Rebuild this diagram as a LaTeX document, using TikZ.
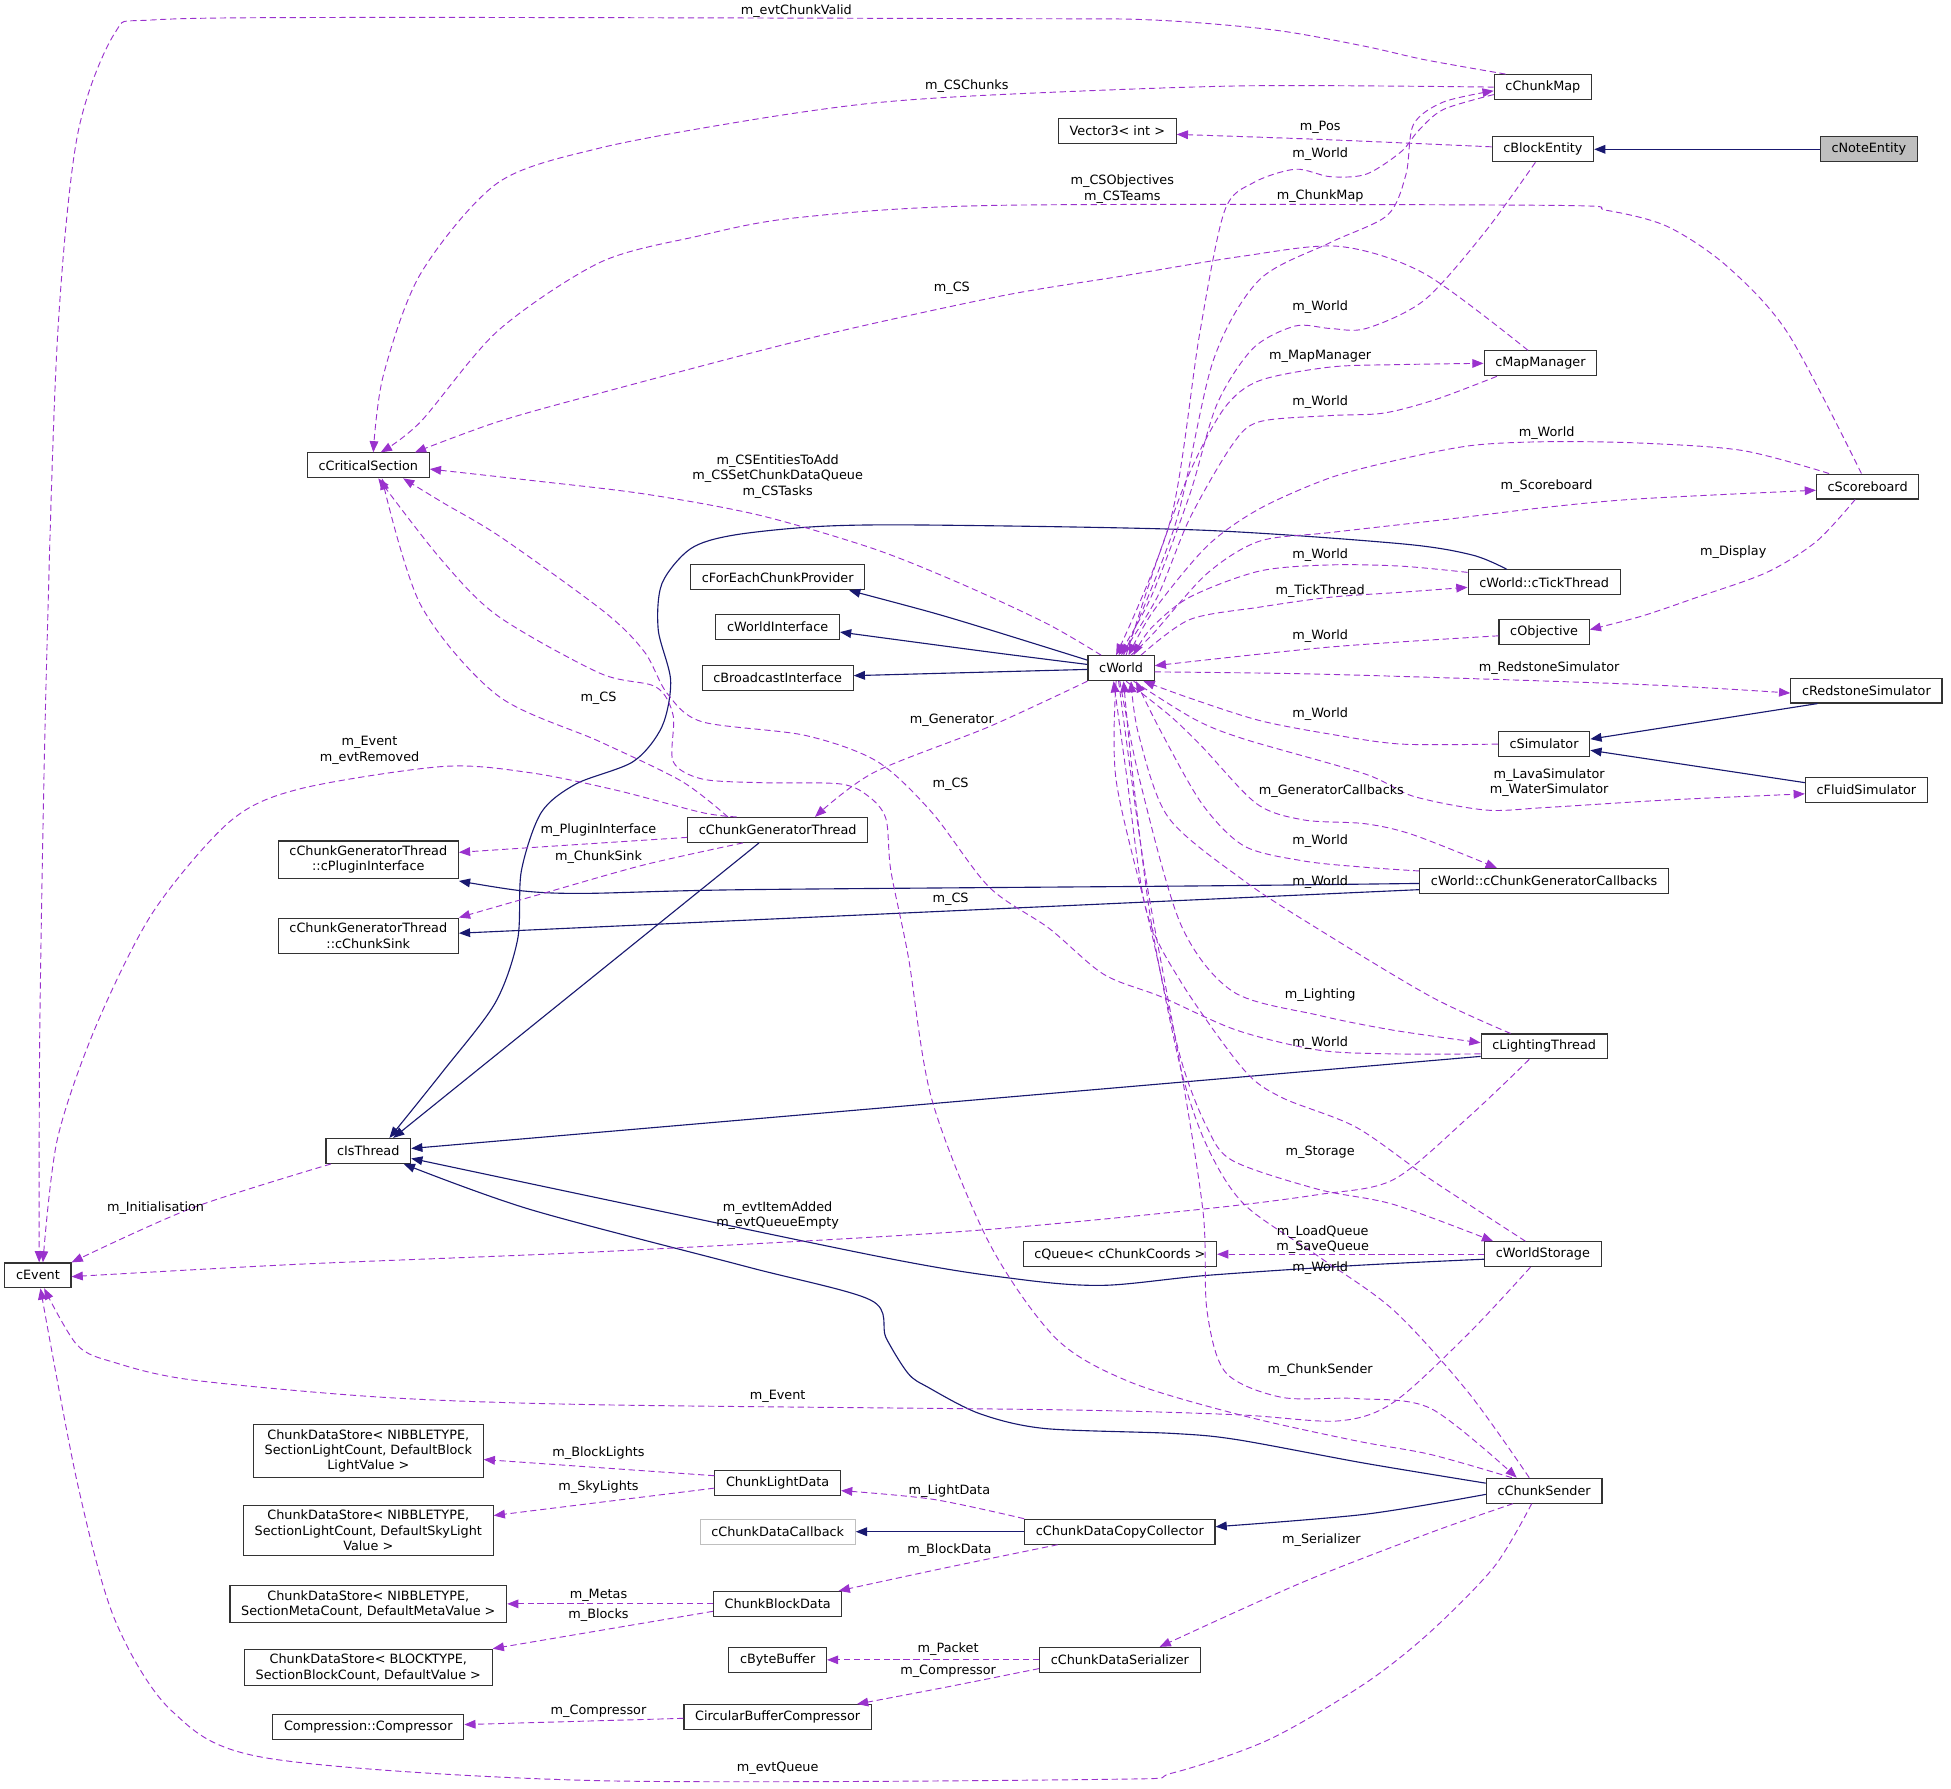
\documentclass[tikz,border=0pt]{standalone}
\usepackage{fontspec}
\setmainfont{DejaVu Sans}
\usetikzlibrary{arrows.meta}
\definecolor{depcol}{HTML}{9A32CD}
\definecolor{inhcol}{HTML}{191970}
\newcommand{\dxfont}{\fontsize{10.3pt}{12.3pt}\selectfont}

\begin{document}
\begin{tikzpicture}[x=1pt,y=-1pt,
  cls/.style={draw=black!80,line width=0.9pt,fill=white,font=\dxfont,align=center,inner xsep=9pt,inner ysep=4pt,minimum height=20pt},
  lbl/.style={font=\dxfont,align=center,inner sep=0pt},
  dep/.style={draw=depcol,line width=0.75pt,dash pattern=on 5pt off 3pt,-{Triangle[length=9pt,width=7pt]}},
  inh/.style={draw=inhcol,line width=0.9pt,-{Triangle[length=9pt,width=7pt]}}]
\useasboundingbox (0,0) rectangle (1568,1437);

\node[cls,fill=black!25] (cNoteEntity) at (1502,120) {cNoteEntity};
\node[cls] (cBlockEntity) at (1240,120) {cBlockEntity};
\node[cls] (cChunkMap) at (1240,70) {cChunkMap};
\node[cls] (vecInt) at (898,105) {Vector3< int >};
\node[cls] (cMapManager) at (1238,292) {cMapManager};
\node[cls] (cCritSec) at (296,374) {cCriticalSection};
\node[cls] (cScoreboard) at (1501,391) {cScoreboard};
\node[cls] (cForEach) at (625,464) {cForEachChunkProvider};
\node[cls] (cTickThread) at (1241,468) {cWorld::cTickThread};
\node[cls] (cWorldIf) at (625,504) {cWorldInterface};
\node[cls] (cObjective) at (1241,508) {cObjective};
\node[cls] (cBroadcast) at (625,545) {cBroadcastInterface};
\node[cls] (cWorld) at (901,537) {cWorld};
\node[cls] (cRedstone) at (1500,555) {cRedstoneSimulator};
\node[cls] (cSimulator) at (1241,598) {cSimulator};
\node[cls] (cFluid) at (1500,635) {cFluidSimulator};
\node[cls] (cGenThread) at (625,667) {cChunkGeneratorThread};
\node[cls] (cPlugin) at (296,691) {cChunkGeneratorThread\\::cPluginInterface};
\node[cls] (cCallbacks) at (1241,708) {cWorld::cChunkGeneratorCallbacks};
\node[cls] (cSink) at (296,752) {cChunkGeneratorThread\\::cChunkSink};
\node[cls] (cLighting) at (1241,841) {cLightingThread};
\node[cls] (cIsThread) at (296,925) {cIsThread};
\node[cls] (cEvent) at (30.5,1025) {cEvent};
\node[cls] (cQueue) at (900,1008) {cQueue< cChunkCoords >};
\node[cls] (cStorage) at (1240,1008) {cWorldStorage};
\node[cls] (storeBlockLight) at (296,1166) {ChunkDataStore< NIBBLETYPE,\\ SectionLightCount, DefaultBlock\\LightValue >};
\node[cls] (cLightData) at (625,1192) {ChunkLightData};
\node[cls] (cSender) at (1241,1198) {cChunkSender};
\node[cls] (storeSkyLight) at (296,1230) {ChunkDataStore< NIBBLETYPE,\\ SectionLightCount, DefaultSkyLight\\Value >};
\node[cls,draw=black!25] (cDataCallback) at (625,1231) {cChunkDataCallback};
\node[cls] (cCopyCollector) at (900,1231) {cChunkDataCopyCollector};
\node[cls] (storeMeta) at (296,1289) {ChunkDataStore< NIBBLETYPE,\\ SectionMetaCount, DefaultMetaValue >};
\node[cls] (cBlockData) at (625,1289) {ChunkBlockData};
\node[cls] (storeBlock) at (296,1340) {ChunkDataStore< BLOCKTYPE,\\ SectionBlockCount, DefaultValue >};
\node[cls] (cByteBuffer) at (625,1334) {cByteBuffer};
\node[cls] (cSerializer) at (900,1334) {cChunkDataSerializer};
\node[cls] (cCompressor) at (296,1388) {Compression::Compressor};
\node[cls] (cCircBuf) at (625,1380) {CircularBufferCompressor};

\draw[inh] (cNoteEntity) -- (cBlockEntity);
\draw[inh] plot[smooth,tension=.5] coordinates {([yshift=-4]cWorld.north west) (795,506) (748,492) ([xshift=-13]cForEach.south east)};
\draw[inh] plot[smooth,tension=.5] coordinates {([yshift=3]cWorld.west) (795,524) ([yshift=-4]cWorldIf.east)};
\draw[inh] ([yshift=-1]cWorld.west) -- ([yshift=2]cBroadcast.east);
\draw[inh] plot[smooth,tension=.5] coordinates {([xshift=-30]cTickThread.north) (1183,446) (1126,437) (964,426) (749,422) (660,423) (590,430) (555,441) (532,469) (529,506) (539,547) (532,584) (509,612) (463,630) (435,653) (419,700) (416,755) (398,806) (356,861) ([xshift=17]cIsThread.north)};
\draw[inh] ([xshift=-15]cGenThread.south) -- ([xshift=20]cIsThread.north);
\draw[inh] ([yshift=-8]cLighting.west) -- ([yshift=2]cIsThread.east);
\draw[inh] plot[smooth,tension=.5] coordinates {([yshift=-4]cStorage.west) (1090,1017) (970,1025) (887,1033) (818,1028) (702,1009) ([yshift=-6]cIsThread.east)};
\draw[inh] plot[smooth,tension=.5] coordinates {([yshift=6]cSender.west) (1097,1176) (994,1157) (942,1152) (839,1148) (787,1136) (746,1115) (730,1104) (712,1075) (700,1045) (600,1018) (426,972) ([xshift=-6]cIsThread.south east)};
\draw[inh] plot[smooth,tension=.5] coordinates {([yshift=-2]cCallbacks.west) (964,712) (600,715) (470,718) (420,716) ([yshift=-17]cPlugin.east)};
\draw[inh] ([yshift=-7]cCallbacks.west) -- ([yshift=2]cSink.east);
\draw[inh] ([xshift=22]cRedstone.south west) -- ([yshift=4]cSimulator.east);
\draw[inh] ([yshift=6]cFluid.west) -- ([yshift=-5]cSimulator.east);
\draw[inh] plot[smooth,tension=.5] coordinates {([yshift=-3]cSender.west) (1097,1217) ([yshift=4]cCopyCollector.east)};
\draw[inh] (cCopyCollector.west) -- (cDataCallback.east);

\draw[dep] plot[smooth,tension=.5] coordinates {([xshift=-30]cChunkMap.north) (1145,48) (1096,37) (1023,24) (925,16) (804,15) (300,14) (123,16) (92,27) (62,110) (46,275) (37,550) (32,825) ([xshift=1]cEvent.north)};
\draw[dep] plot[smooth,tension=.5] coordinates {(cChunkMap.west) (999,69) (804,76) (700,83) (600,97) (482,119) (400,147) (338,220) (308,302) ([xshift=4]cCritSec.north)};
\draw[dep] plot[smooth,tension=.5] coordinates {([xshift=-5]cScoreboard.north) (1437,268) (1388,214) (1340,182) (1291,169) (1242,165) (804,165) (640,175) (560,190) (482,211) (400,266) (338,339) ([xshift=10]cCritSec.north)};
\draw[dep] plot[smooth,tension=.5] coordinates {([xshift=-10]cMapManager.north) (1145,220) (1076,198) (998,206) (901,222) (804,238) (650,272) (482,316) (400,339) ([xshift=-12]cCritSec.north east)};
\draw[dep] plot[smooth,tension=.5] coordinates {([xshift=-16]cWorld.north) (841,501) (772,469) (702,441) (610,414) (518,397) (426,386) ([yshift=-3]cCritSec.east)};
\draw[dep] plot[smooth,tension=.5] coordinates {([xshift=-40]cGenThread.north) (548,628) (482,596) (400,559) (338,486) ([xshift=11]cCritSec.south)};
\draw[dep] plot[smooth,tension=.5] coordinates {([yshift=-6]cLighting.west) (1120,847) (1060,844) (994,828) (933,801) (887,783) (843,746) (795,713) (749,653) (705,612) (647,591) (564,580) (536,557) (518,524) (486,492) (403,432) (356,404) ([xshift=28]cCritSec.south)};
\draw[dep] plot[smooth,tension=.5] coordinates {([xshift=-26]cSender.north) (1150,1169) (1090,1158) (1000,1138) (909,1111) (849,1076) (795,999) (749,884) (730,769) (716,700) (712,658) (698,640) (675,630) (610,629) (564,626) (541,612) (541,575) (527,552) (482,541) (400,495) (354,449) ([xshift=8]cCritSec.south)};
\draw[dep] plot[smooth,tension=.5] coordinates {([yshift=2]cBlockEntity.west) (1060,112) ([yshift=-3]vecInt.east)};
\draw[dep] plot[smooth,tension=.5] coordinates {([yshift=-6]cChunkMap.west) (1160,88) (1140,105) (1126,122) (1098,140) (1069,142) (1041,136) (1007,147) (984,170) (964,269) (941,417) ([xshift=-4]cWorld.north)};
\draw[dep] plot[smooth,tension=.5] coordinates {([xshift=2]cWorld.north) (945,420) (975,290) (1012,225) (1069,195) (1115,173) (1130,140) (1136,100) (1160,82) ([yshift=-3]cChunkMap.west)};
\draw[dep] plot[smooth,tension=.5] coordinates {([xshift=-6]cBlockEntity.south) (1193,187) (1145,241) (1098,264) (1069,264) (1041,262) (1007,280) (978,325) (956,398) (925,480) ([xshift=-2]cWorld.north)};
\draw[dep] plot[smooth,tension=.5] coordinates {([xshift=4]cWorld.north) (930,450) (956,380) (984,328) (1012,306) (1069,295) (1126,293) (cMapManager.west)};
\draw[dep] plot[smooth,tension=.5] coordinates {([xshift=-35]cMapManager.south) (1154,321) (1112,332) (1069,334) (1012,339) (990,358) (956,417) (930,480) (cWorld.north)};
\draw[dep] plot[smooth,tension=.5] coordinates {([xshift=-31]cScoreboard.north) (1400,362) (1316,356) (1242,355) (1183,358) (1126,369) (1069,384) (1012,409) (970,439) (927,491) ([xshift=6]cWorld.north)};
\draw[dep] plot[smooth,tension=.5] coordinates {([xshift=8]cWorld.north) (927,509) (970,461) (1012,435) (1069,428) (1166,417) (1240,408) (1316,401) ([yshift=-3]cScoreboard.west)};
\draw[dep] plot[smooth,tension=.5] coordinates {([xshift=-10]cScoreboard.south) (1460,435) (1420,460) (1364,480) (1320,495) ([yshift=2]cObjective.east)};
\draw[dep] plot[smooth,tension=.5] coordinates {([yshift=8]cTickThread.west) (1126,455) (1069,454) (1012,459) (956,480) (925,505) ([xshift=10]cWorld.north)};
\draw[dep] plot[smooth,tension=.5] coordinates {([xshift=16]cWorld.north) (956,498) (1012,488) (1069,480) (1126,476) ([yshift=-4]cTickThread.west)};
\draw[dep] plot[smooth,tension=.5] coordinates {([yshift=-3]cObjective.west) (1069,520) ([yshift=2]cWorld.east)};
\draw[dep] plot[smooth,tension=.5] coordinates {([yshift=-3]cWorld.east) (1069,542) (1316,550) ([yshift=-2]cRedstone.west)};
\draw[dep] plot[smooth,tension=.5] coordinates {(cSimulator.west) (1126,598) (1069,590) (1012,579) (956,561) ([xshift=18]cWorld.south)};
\draw[dep] plot[smooth,tension=.5] coordinates {([xshift=10]cWorld.south) (960,578) (1000,594) (1097,622) (1136,640) (1194,651) (1242,649) (1339,643) ([yshift=-3]cFluid.west)};
\draw[dep] plot[smooth,tension=.5] coordinates {([xshift=4]cWorld.south) (940,575) (966,600) (1010,646) (1048,659) (1097,662) (1136,671) ([xshift=-38]cCallbacks.north)};
\draw[dep] plot[smooth,tension=.5] coordinates {([yshift=8]cCallbacks.west) (1097,697) (1048,692) (1000,680) (966,646) (932,586) ([xshift=12]cWorld.south)};
\draw[dep] plot[smooth,tension=.5] coordinates {(cWorld.south west) (795,584) (702,621) ([xshift=30]cGenThread.north)};
\draw[dep] plot[smooth,tension=.5] coordinates {([xshift=-33]cGenThread.north) (564,653) (495,635) (426,621) (356,616) (241,634) (185,660) (123,733) (77,825) (46,916) ([xshift=4]cEvent.north)};
\draw[dep] plot[smooth,tension=.5] coordinates {([yshift=-6]cGenThread.west) (460,679) ([yshift=6]cPlugin.east)};
\draw[dep] plot[smooth,tension=.5] coordinates {([xshift=-28]cGenThread.south) (518,695) (440,717) (cSink.north east)};
\draw[dep] plot[smooth,tension=.5] coordinates {([xshift=-27]cLighting.north) (1150,801) (1060,747) (1000,708) (939,657) (915,590) ([xshift=8]cWorld.south)};
\draw[dep] plot[smooth,tension=.5] coordinates {([xshift=-1]cWorld.south) (916,627) (949,743) (991,797) (1060,816) (1120,828) ([yshift=3]cLighting.west)};
\draw[dep] plot[smooth,tension=.5] coordinates {([xshift=-12]cLighting.south) (1180,898) (1120,948) (1060,960) (964,972) (769,990) (482,1006) (241,1016) ([yshift=-1]cEvent.east)};
\draw[dep] plot[smooth,tension=.5] coordinates {([xshift=-30]cIsThread.south) (154,971) (cEvent.north east)};
\draw[dep] plot[smooth,tension=.5] coordinates {([xshift=-4]cWorld.south) (897,627) (924,743) (949,851) (970,906) (991,933) (1060,956) (1120,968) ([xshift=-40]cStorage.north)};
\draw[dep] plot[smooth,tension=.5] coordinates {([xshift=-14]cStorage.north) (1150,948) (1090,906) (1030,882) (999,859) (949,789) (921,731) (905,620) ([xshift=-6]cWorld.south)};
\draw[dep] (cStorage.west) -- (cQueue.east);
\draw[dep] plot[smooth,tension=.5] coordinates {([xshift=-10]cStorage.south) (1180,1072) (1120,1127) (1075,1142) (994,1137) (849,1133) (482,1129) (308,1123) (154,1109) (92,1095) (62,1081) ([xshift=5]cEvent.south)};
\draw[dep] plot[smooth,tension=.5] coordinates {([xshift=-12]cSender.north) (1180,1119) (1120,1053) (1060,1010) (1000,968) (970,921) (949,859) (925,740) (910,620) ([xshift=2]cWorld.south)};
\draw[dep] plot[smooth,tension=.5] coordinates {([xshift=-2]cWorld.south) (920,700) (949,859) (967,975) (970,1053) (985,1103) (1030,1123) (1090,1124) (1150,1132) ([xshift=-22]cSender.north)};
\draw[dep] plot[smooth,tension=.5] coordinates {([xshift=-10]cSender.south) (1201,1259) (1149,1312) (1097,1353) (1020,1398) (942,1425) (891,1430) (477,1431) (215,1413) (138,1375) (92,1301) (62,1191) ([xshift=2]cEvent.south)};
\draw[dep] plot[smooth,tension=.5] coordinates {([xshift=-25]cSender.south) (1149,1232) (1046,1272) ([xshift=32]cSerializer.north)};
\draw[dep] plot[smooth,tension=.5] coordinates {(cCopyCollector.north west) (750,1205) ([yshift=-6]cLightData.east)};
\draw[dep] plot[smooth,tension=.5] coordinates {([xshift=27]cCopyCollector.south west) (760,1260) ([xshift=49]cBlockData.north)};
\draw[dep] ([yshift=6]cLightData.west) -- ([yshift=-7]storeBlockLight.east);
\draw[dep] ([yshift=-4]cLightData.west) -- ([yshift=12]storeSkyLight.east);
\draw[dep] (cBlockData.west) -- (storeMeta.east);
\draw[dep] ([yshift=-6]cBlockData.west) -- ([yshift=15]storeBlock.east);
\draw[dep] (cSerializer.west) -- (cByteBuffer.east);
\draw[dep] plot[smooth,tension=.5] coordinates {([yshift=-7]cSerializer.west) (760,1356) ([xshift=-12]cCircBuf.north east)};
\draw[dep] ([yshift=-1]cCircBuf.west) -- ([yshift=2]cCompressor.east);

\node[lbl] (lEvtChunkValid) at (640,9) {m\_evtChunkValid};
\node[lbl] (lCSChunks) at (777,69) {m\_CSChunks};
\node[lbl] (lPos) at (1061,102) {m\_Pos};
\node[lbl] (lWorldA) at (1061,124) {m\_World};
\node[lbl] (lCSObj) at (902,152) {m\_CSObjectives\\m\_CSTeams};
\node[lbl] (lChunkMap) at (1061,158) {m\_ChunkMap};
\node[lbl] (lCSMap) at (765,232) {m\_CS};
\node[lbl] (lWorldB) at (1061,247) {m\_World};
\node[lbl] (lMapManager) at (1061,286) {m\_MapManager};
\node[lbl] (lWorldC) at (1061,323) {m\_World};
\node[lbl] (lWorldD) at (1243,348) {m\_World};
\node[lbl] (lCSEnt) at (625,383) {m\_CSEntitiesToAdd\\m\_CSSetChunkDataQueue\\m\_CSTasks};
\node[lbl] (lScoreboard) at (1243,391) {m\_Scoreboard};
\node[lbl] (lDisplay) at (1393,444) {m\_Display};
\node[lbl] (lWorldE) at (1061,446) {m\_World};
\node[lbl] (lTickThread) at (1061,475) {m\_TickThread};
\node[lbl] (lWorldF) at (1061,511) {m\_World};
\node[lbl] (lRedstone) at (1245,537) {m\_RedstoneSimulator};
\node[lbl] (lCSGen) at (481,561) {m\_CS};
\node[lbl] (lWorldG) at (1061,574) {m\_World};
\node[lbl] (lGenerator) at (765,579) {m\_Generator};
\node[lbl] (lEvent) at (297,603) {m\_Event\\m\_evtRemoved};
\node[lbl] (lLava) at (1245,629) {m\_LavaSimulator\\m\_WaterSimulator};
\node[lbl] (lCSLight) at (764,630) {m\_CS};
\node[lbl] (lGenCallbacks) at (1070,636) {m\_GeneratorCallbacks};
\node[lbl] (lPluginIf) at (481,667) {m\_PluginInterface};
\node[lbl] (lWorldH) at (1061,676) {m\_World};
\node[lbl] (lChunkSink) at (481,689) {m\_ChunkSink};
\node[lbl] (lWorldI) at (1061,709) {m\_World};
\node[lbl] (lCSSender) at (764,723) {m\_CS};
\node[lbl] (lLighting) at (1061,800) {m\_Lighting};
\node[lbl] (lWorldJ) at (1061,838) {m\_World};
\node[lbl] (lStorage) at (1061,926) {m\_Storage};
\node[lbl] (lInit) at (125,971) {m\_Initialisation};
\node[lbl] (lItemAdded) at (625,977) {m\_evtItemAdded\\m\_evtQueueEmpty};
\node[lbl] (lLoadQueue) at (1063,996) {m\_LoadQueue\\m\_SaveQueue};
\node[lbl] (lWorldK) at (1061,1019) {m\_World};
\node[lbl] (lChunkSender) at (1061,1101) {m\_ChunkSender};
\node[lbl] (lEventB) at (625,1122) {m\_Event};
\node[lbl] (lBlockLights) at (481,1168) {m\_BlockLights};
\node[lbl] (lSkyLights) at (481,1195) {m\_SkyLights};
\node[lbl] (lLightData) at (763,1198) {m\_LightData};
\node[lbl] (lSerializer) at (1062,1238) {m\_Serializer};
\node[lbl] (lBlockData) at (763,1246) {m\_BlockData};
\node[lbl] (lMetas) at (481,1282) {m\_Metas};
\node[lbl] (lBlocks) at (481,1298) {m\_Blocks};
\node[lbl] (lPacket) at (762,1325) {m\_Packet};
\node[lbl] (lCompA) at (762,1343) {m\_Compressor};
\node[lbl] (lCompB) at (481,1375) {m\_Compressor};
\node[lbl] (lEvtQueue) at (625,1421) {m\_evtQueue};

\end{tikzpicture}
\end{document}
